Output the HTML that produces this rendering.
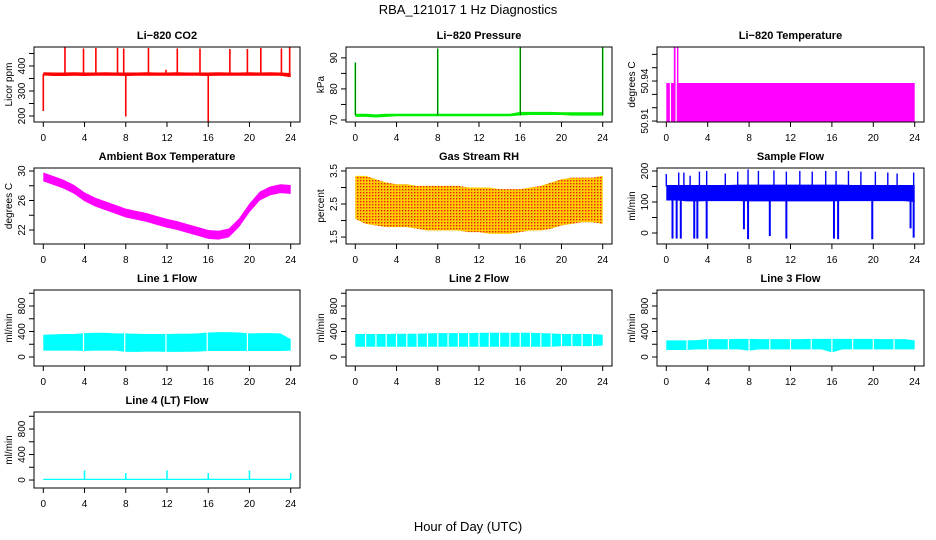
<!DOCTYPE html>
<html><head><meta charset="utf-8">
<style>
html,body{margin:0;padding:0;background:#fff;width:936px;height:540px;overflow:hidden;}
svg{display:block;font-family:"Liberation Sans",Arial,sans-serif;}
</style></head>
<body>
<svg id="chart" width="936" height="540" viewBox="0 0 936 540">
<defs>
<pattern id="rhpat" width="3" height="3" patternUnits="userSpaceOnUse">
<rect width="3" height="3" fill="#ffcc00"/><rect width="1.4" height="1.4" fill="#e8201a"/>
</pattern>
</defs>
<text x="468" y="14" text-anchor="middle" font-size="13">RBA_121017  1 Hz Diagnostics</text>
<text x="468" y="531" text-anchor="middle" font-size="13">Hour of Day (UTC)</text>
<g id="panels"></g>
</svg>
<script>
// ---- data ----
const hours = [0,1,2,3,4,5,6,7,8,9,10,11,12,13,14,15,16,17,18,19,20,21,22,23,24];
const xTicks = [0,4,8,12,16,20,24];

const co2Low  = [362,360,360,361,360,361,361,361,360,361,361,361,361,361,361,361,360,361,361,361,361,361,361,361,355];
const co2High = [375,374,374,375,374,374,375,374,374,374,375,374,374,375,374,374,374,375,374,374,375,374,375,374,372];
const co2SpikeHours = [0,2.1,3.9,5.1,7.2,7.8,8.0,10.2,11.9,13.0,15.2,16.0,18.1,19.8,21.1,23.1,23.9];
const co2SpikeValues = [220,475,470,472,472,470,198,472,385,470,470,178,468,468,472,470,475];

const presLow  = [71.0,71.0,70.8,71.0,71.2,71.2,71.2,71.2,71.2,71.2,71.2,71.2,71.2,71.2,71.2,71.2,71.5,71.6,71.6,71.6,71.6,71.4,71.4,71.4,71.4];
const presHigh = [72.0,72.0,71.8,72.0,72.0,72.0,72.0,72.0,72.0,72.0,72.0,72.0,72.0,72.0,72.0,72.0,72.6,72.6,72.6,72.6,72.5,72.5,72.5,72.5,72.5];
const presSpikeHours = [0,8,16,24];
const presSpikeValues = [88.5,93,93.5,93.5];

const tempLow  = [50.9097,50.9097,50.9097,50.9097,50.9097,50.9097,50.9097,50.9097,50.9097,50.9097,50.9097,50.9097,50.9097,50.9097,50.9097,50.9097,50.9097,50.9097,50.9097,50.9097,50.9097,50.9097,50.9097,50.9097,50.9097];
const tempHigh = [50.9385,50.9385,50.9385,50.9385,50.9385,50.9385,50.9385,50.9385,50.9385,50.9385,50.9385,50.9385,50.9385,50.9385,50.9385,50.9385,50.9385,50.9385,50.9385,50.9385,50.9385,50.9385,50.9385,50.9385,50.9385];
const tempSpikeHours = [0.8,0.85,1.1];
const tempSpikeValues = [50.966,50.966,50.966];

const ambCenter = [29.2,28.7,28.2,27.5,26.5,25.8,25.3,24.8,24.3,24.0,23.7,23.3,22.9,22.6,22.2,21.8,21.4,21.3,21.6,23.0,25.0,26.6,27.3,27.6,27.5];
const ambHalf   = [0.6,0.6,0.6,0.6,0.6,0.6,0.6,0.6,0.6,0.6,0.6,0.6,0.6,0.6,0.6,0.6,0.6,0.6,0.6,0.6,0.6,0.6,0.6,0.6,0.6];

const rhLow  = [2.05,1.9,1.85,1.8,1.8,1.8,1.75,1.7,1.7,1.7,1.7,1.65,1.65,1.6,1.6,1.6,1.65,1.7,1.7,1.75,1.85,1.9,1.95,1.95,1.9];
const rhHigh = [3.35,3.35,3.25,3.15,3.1,3.1,3.05,3.05,3.05,3.05,3.05,3.0,3.0,3.0,2.95,2.95,2.95,3.0,3.05,3.15,3.25,3.3,3.3,3.3,3.35];

const flowLow  = [105,105,102,102,103,103,103,103,102,102,102,102,102,102,102,102,102,103,103,103,103,103,103,103,100];
const flowHigh = [155,155,155,155,155,155,155,156,156,156,156,156,156,156,156,156,156,156,155,155,155,155,155,155,155];
const flowUpHours = [0,1.2,1.7,2.3,3.2,3.9,5.7,6.9,7.9,8.9,10.4,11.6,12.9,14.1,15.4,16.4,17.6,18.8,20.2,21.4,22.3,23.9];
const flowUpValues = [190,195,195,185,198,200,192,198,205,200,202,198,200,198,200,200,200,198,198,195,192,195];
const flowDownHours = [0.6,1.0,1.4,2.7,3.0,3.9,7.5,7.9,10.0,11.6,16.2,16.6,19.9,23.6,23.9];
const flowDownValues = [-18,-18,-18,-18,-18,-18,12,-20,-10,-18,-18,-20,-20,15,-15];

const line1Low  = [100,100,100,100,95,100,100,100,80,80,85,85,80,80,82,85,95,95,95,95,95,95,95,95,100];
const line1High = [350,355,360,360,375,380,380,370,370,365,360,360,360,365,365,370,385,390,390,385,370,375,375,370,280];
const line1GapHours = [3.9,7.9,11.9,15.9,19.8];
const line2Low  = [160,160,160,160,160,160,160,160,160,160,160,160,160,160,160,160,160,160,160,160,170,170,170,170,180];
const line2High = [360,360,360,360,365,365,365,370,375,375,375,375,380,380,380,380,380,380,375,370,360,360,360,360,350];
const line2GapHours = [1,2,3,4,5,6,7,8,9,10,11,12,13,14,15,16,17,18,19,20,21,22,23];
const line3Low  = [110,110,110,120,120,120,120,120,100,120,120,120,120,120,120,120,70,120,120,120,120,120,120,120,120];
const line3High = [260,260,260,265,280,280,280,285,285,280,280,280,280,280,285,285,285,285,285,285,285,280,280,280,260];
const line3GapHours = [2,4,6,8,10,12,14,16,18,20,22];
const line4Low  = [0,0,0,0,0,0,0,0,0,0,0,0,0,0,0,0,0,0,0,0,0,0,0,0,0];
const line4High = [20,20,20,20,20,20,20,20,20,20,20,20,20,20,20,20,20,20,20,20,20,20,20,20,20];
const line4SpikeHours = [4,8,12,16,20,24];
const line4SpikeValues = [150,110,150,110,150,110];

// ---- layout ----
const NS = "http://www.w3.org/2000/svg";
const root = document.getElementById('panels');
const cols = [[34,300],[346,612],[657,924]];
const rows = [[47,122],[168,244],[290,366],[412,488]];

function mk(tag, attrs, parent){
  const e = document.createElementNS(NS, tag);
  for (const k in attrs) e.setAttribute(k, attrs[k]);
  (parent||root).appendChild(e);
  return e;
}

function panel(opt){
  const [L,R] = cols[opt.col], [T,B] = rows[opt.row];
  const g = mk('g', {});
  
  
  const x0 = L + 9.3, x1 = R - 9.3;
  const xs = h => x0 + (x1 - x0) * h / 24;
  const [d0, d1] = opt.domain;
  const ys = v => B - (v - d0) / (d1 - d0) * (B - T);
  const clip = 'clip-' + opt.name;
  const cp = mk('clipPath', {id: clip}, g);
  mk('rect', {x: L, y: T, width: R - L, height: B - T}, cp);
  const dg = mk('g', {'clip-path': 'url(#' + clip + ')'}, g);
  
  
  opt.draw(dg, xs, ys);
  const fr = mk('rect', {x: L, y: T, width: R - L, height: B - T, fill: 'none', stroke: '#000', 'stroke-width': 1}, g);
  
  
  xTicks.forEach(t => {
    const x = xs(t);
    mk('line', {x1: x, x2: x, y1: B, y2: B + 5, stroke: '#000'}, g);
    const tx = mk('text', {x: x, y: B + 19, 'text-anchor': 'middle', 'font-size': 10}, g);
    tx.textContent = t;
    
    
  });
  opt.yTicks.forEach((t, i) => {
    const y = ys(t);
    mk('line', {x1: L, x2: L - 5, y1: y, y2: y, stroke: '#000'}, g);
    const lab = opt.yLabels[i];
    if (lab !== '') {
      const tx = mk('text', {x: 0, y: 0, 'text-anchor': 'middle', 'font-size': 10, transform: 'translate(' + (L - 9) + ',' + y + ') rotate(-90)'}, g);
      tx.textContent = lab;
      
      
    }
  });
  const yt = mk('text', {x: 0, y: 0, 'text-anchor': 'middle', 'font-size': 10, transform: 'translate(' + (L - 22) + ',' + ((T + B) / 2) + ') rotate(-90)'}, g);
  yt.textContent = opt.ylab;
  
  
  const ti = mk('text', {x: (L + R) / 2, y: T - 8, 'text-anchor': 'middle', 'font-size': 11, 'font-weight': 'bold'}, g);
  ti.textContent = opt.title;
  
  
}

function band(g, xs, ys, lo, hi, fill, name){
  let d = '';
  hours.forEach((h, i) => d += (i ? 'L' : 'M') + xs(h) + ',' + ys(hi[i]));
  for (let i = hours.length - 1; i >= 0; i--) d += 'L' + xs(hours[i]) + ',' + ys(lo[i]);
  const p = mk('path', {d: d + 'Z', fill: fill, stroke: 'none'}, g);
  
  
  return p;
}
function spikes(g, xs, ys, hs, vs, base, color, w, name){
  hs.forEach((h, i) => {
    const l = mk('line', {x1: xs(h), x2: xs(h), y1: ys(base), y2: ys(vs[i]), stroke: color, 'stroke-width': w}, g);
    
    
  });
}
function gaps(g, xs, hs){
  hs.forEach(h => {
    const l = mk('line', {x1: xs(h), x2: xs(h), y1: 0, y2: 540, stroke: '#fff', 'stroke-width': 1.2}, g);
    
    
  });
}

panel({name:'co2', col:0, row:0, title:'Li\u2212820 CO2', ylab:'Licor ppm', domain:[176,476],
  yTicks:[200,250,300,350,400,450], yLabels:['200','','300','','400',''],
  draw:(g,xs,ys)=>{ band(g,xs,ys,co2Low,co2High,'#ff0000','co2-band');
    spikes(g,xs,ys,co2SpikeHours,co2SpikeValues,368,'#ff0000',1.6,'co2-spike'); }});
panel({name:'pressure', col:1, row:0, title:'Li\u2212820 Pressure', ylab:'kPa', domain:[69.35,93.5],
  yTicks:[70,75,80,85,90], yLabels:['70','','80','','90'],
  draw:(g,xs,ys)=>{ band(g,xs,ys,presLow,presHigh,'#00ee00','pressure-band');
    spikes(g,xs,ys,presSpikeHours,presSpikeValues,71.5,'#00ee00',1.6,'pressure-spike');
    spikes(g,xs,ys,presSpikeHours,presSpikeValues,71.5,'#000',0.5,'pressure-spike-dots'); }});
panel({name:'li820-temp', col:2, row:0, title:'Li\u2212820 Temperature', ylab:'degrees C', domain:[50.9093,50.9655],
  yTicks:[50.91,50.92,50.93,50.94,50.95,50.96], yLabels:['50.91','','','50.94','',''],
  draw:(g,xs,ys)=>{ band(g,xs,ys,tempLow,tempHigh,'#ff00ff','temp-band');
    spikes(g,xs,ys,tempSpikeHours,tempSpikeValues,50.938,'#ff00ff',1.5,'temp-spike');
    gaps(g,xs,[0.4,0.95]); }});
panel({name:'ambient', col:0, row:1, title:'Ambient Box Temperature', ylab:'degrees C', domain:[20.1,30.41],
  yTicks:[22,24,26,28,30], yLabels:['22','','26','','30'],
  draw:(g,xs,ys)=>{ const lo=ambCenter.map((c,i)=>c-ambHalf[i]); const hi=ambCenter.map((c,i)=>c+ambHalf[i]);
    band(g,xs,ys,lo,hi,'#ff00ff','ambient-band'); }});
panel({name:'rh', col:1, row:1, title:'Gas Stream RH', ylab:'percent', domain:[1.29,3.59],
  yTicks:[1.5,2,2.5,3,3.5], yLabels:['1.5','','2.5','','3.5'],
  draw:(g,xs,ys)=>{ band(g,xs,ys,rhLow,rhHigh,'url(#rhpat)','rh-band'); }});
panel({name:'sample-flow', col:2, row:1, title:'Sample Flow', ylab:'ml/min', domain:[-35.5,209.7],
  yTicks:[0,50,100,150,200], yLabels:['0','','100','','200'],
  draw:(g,xs,ys)=>{ band(g,xs,ys,flowLow,flowHigh,'#0000ff','flow-band');
    spikes(g,xs,ys,flowUpHours,flowUpValues,150,'#0000ff',1.4,'flow-up-spike');
    spikes(g,xs,ys,flowDownHours,flowDownValues,105,'#0000ff',2,'flow-down-spike'); }});
const lineTicks=[0,200,400,600,800,1000], lineLabels=['0','','400','','800',''];
panel({name:'line1-flow', col:0, row:2, title:'Line 1 Flow', ylab:'ml/min', domain:[-141,1051], yTicks:lineTicks, yLabels:lineLabels,
  draw:(g,xs,ys)=>{ band(g,xs,ys,line1Low,line1High,'#00ffff','line1-band'); gaps(g,xs,line1GapHours); }});
panel({name:'line2-flow', col:1, row:2, title:'Line 2 Flow', ylab:'ml/min', domain:[-141,1051], yTicks:lineTicks, yLabels:lineLabels,
  draw:(g,xs,ys)=>{ band(g,xs,ys,line2Low,line2High,'#00ffff','line2-band'); gaps(g,xs,line2GapHours); }});
panel({name:'line3-flow', col:2, row:2, title:'Line 3 Flow', ylab:'ml/min', domain:[-141,1051], yTicks:lineTicks, yLabels:lineLabels,
  draw:(g,xs,ys)=>{ band(g,xs,ys,line3Low,line3High,'#00ffff','line3-band'); gaps(g,xs,line3GapHours); }});
panel({name:'line4-flow', col:0, row:3, title:'Line 4 (LT) Flow', ylab:'ml/min', domain:[-125,1067], yTicks:lineTicks, yLabels:lineLabels,
  draw:(g,xs,ys)=>{ band(g,xs,ys,line4Low,line4High,'#00ffff','line4-band');
    spikes(g,xs,ys,line4SpikeHours,line4SpikeValues,10,'#00ffff',1.5,'line4-spike'); }});
</script>
</body></html>
